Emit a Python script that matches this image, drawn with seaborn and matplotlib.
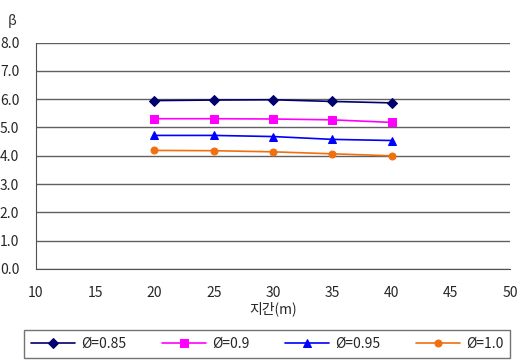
import pandas as pd
import matplotlib.pyplot as plt
import seaborn as sns

# 데이터
span = [20, 25, 30, 35, 40]
beta_085 = [5.95, 5.97, 5.98, 5.92, 5.87]
beta_090 = [5.31, 5.31, 5.30, 5.27, 5.18]
beta_095 = [4.72, 4.72, 4.68, 4.58, 4.54]
beta_100 = [4.19, 4.18, 4.14, 4.07, 4.00]
labels = ["Ø=0.85", "Ø=0.9", "Ø=0.95", "Ø=1.0"]

colors = ["#00006e", "#ff00ff", "#0000ff", "#f07010"]
markers = ["D", "s", "^", "o"]
msizes = [5, 6, 6, 5]

rows = []
for lab, vals in zip(labels, [beta_085, beta_090, beta_095, beta_100]):
    for x, y in zip(span, vals):
        rows.append({"span": x, "beta": y, "phi": lab})
df = pd.DataFrame(rows)

sns.set_style("white")
plt.rcParams['font.family'] = ['Noto Sans CJK KR', 'DejaVu Sans']

fig = plt.figure(figsize=(5.21, 3.64), dpi=100)
ax = fig.add_axes([0.069, 0.261, 0.91, 0.622])

for lab, c, m, ms in zip(labels, colors, markers, msizes):
    sub = df[df["phi"] == lab]
    sns.lineplot(data=sub, x="span", y="beta", color=c, marker=m, markersize=ms,
                 markeredgecolor=c, linewidth=1.2, label=lab, ax=ax)

ax.set_xlim(10, 50)
ax.set_ylim(0, 8)
ax.set_xticks(range(10, 51, 5))
ax.set_yticks([i for i in range(0, 9)])
ax.set_yticklabels([f"{i:.1f}" for i in range(0, 9)])
ax.yaxis.grid(True, color="#606060", linewidth=1.0)
ax.set_axisbelow(True)
for s in ["top", "right"]:
    ax.spines[s].set_visible(False)
ax.spines["left"].set_color("#505050")
ax.spines["bottom"].set_color("#505050")
ax.tick_params(axis="x", direction="in", length=4, color="#505050", labelsize=10, pad=12)
ax.tick_params(axis="y", length=0, labelsize=10, pad=12)
ax.set_xlabel("지간(m)", fontsize=10, labelpad=1)
ax.set_ylabel("")
fig.text(0.015, 0.93, "β", fontsize=10, color="#333333")

ax.legend_.remove()
h, l = ax.get_legend_handles_labels()
leg = fig.legend(h, l, loc="upper left", bbox_to_anchor=(0.046, -0.03, 0.933, 0.124),
                 mode="expand", ncol=4, frameon=True, fancybox=False,
                 edgecolor="#505050", fontsize=10, handlelength=3.2,
                 borderpad=0.5, handletextpad=0.4, borderaxespad=0)
leg.get_frame().set_linewidth(1.0)

fig.savefig("out.png", dpi=100)
